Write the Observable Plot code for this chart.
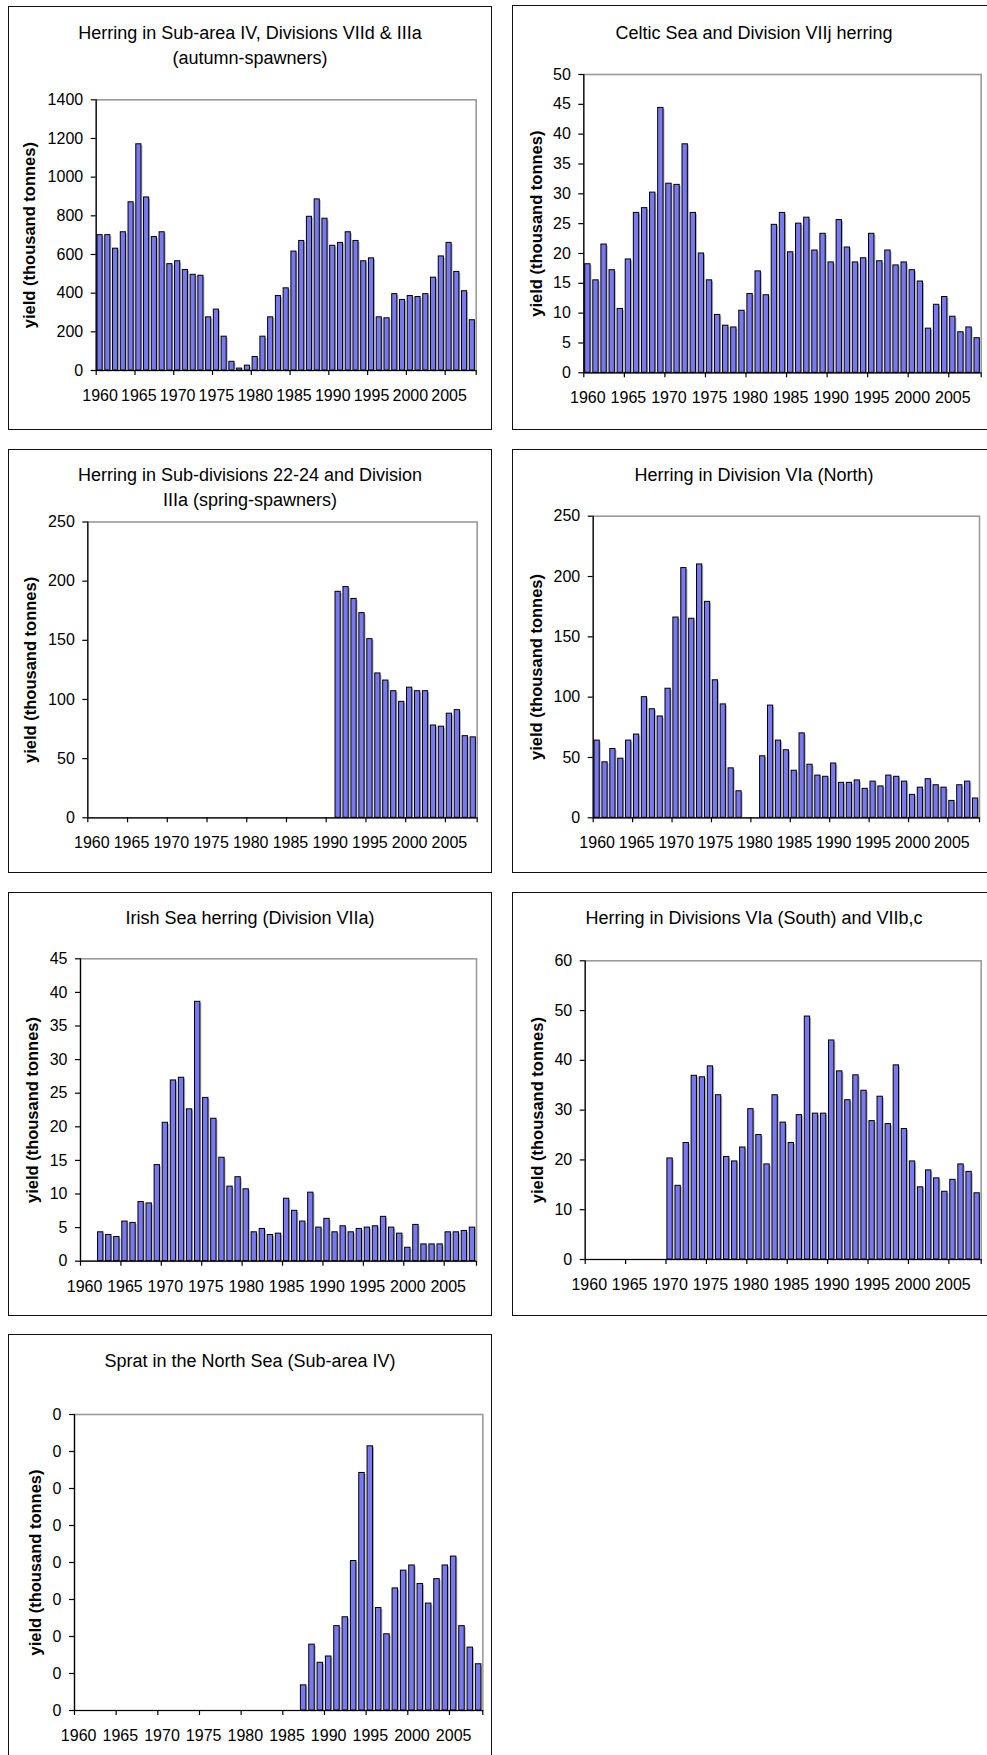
<!DOCTYPE html>
<html>
<head>
<meta charset="utf-8">
<script src="https://cdn.jsdelivr.net/npm/d3@7"></script>
<script src="https://cdn.jsdelivr.net/npm/@observablehq/plot@0.6"></script>
<style>
  html, body { margin: 0; padding: 0; background: #fff; }
  #root { position: relative; width: 987px; height: 1755px; overflow: hidden; font-family: "Liberation Sans", Arial, sans-serif; }
  .box { position: absolute; border: 1.5px solid #111; box-sizing: border-box; pointer-events: none; }
  .title { position: absolute; text-align: center; font-size: 18px; line-height: 25px; color: #000; white-space: nowrap; }
  .chart { position: absolute; }
</style>
</head>
<body>
<div id="root"></div>
<script>
// ---------- data ----------
const tickYears = [1960, 1965, 1970, 1975, 1980, 1985, 1990, 1995, 2000, 2005];
const yLabel = "yield (thousand tonnes)";

const autumnTitle = ["Herring in Sub-area IV, Divisions VIId & IIIa", "(autumn-spawners)"];
const autumnStart = 1960;
const autumnYield = [700, 700, 630, 715, 870, 1170, 895, 690, 715, 550,
  565, 520, 495, 490, 275, 315, 175, 45, 10, 25,
  70, 175, 275, 385, 425, 615, 670, 795, 885, 785,
  645, 660, 715, 670, 565, 580, 275, 270, 395, 365,
  385, 380, 395, 480, 590, 660, 510, 410, 260];

const celticTitle = ["Celtic Sea and Division VIIj herring"];
const celticStart = 1960;
const celticYield = [18.2, 15.5, 21.5, 17.2, 10.7, 19, 26.8, 27.6, 30.2, 44.4,
  31.7, 31.5, 38.3, 26.8, 20, 15.5, 9.7, 7.9, 7.6, 10.4,
  13.2, 17, 13, 24.8, 26.8, 20.2, 25, 26, 20.5, 23.3,
  18.5, 25.6, 21, 18.5, 19.2, 23.3, 18.7, 20.5, 18, 18.5,
  17.2, 15.3, 7.4, 11.4, 12.7, 9.4, 6.8, 7.6, 5.8];

const springTitle = ["Herring in Sub-divisions 22-24 and Division", "IIIa (spring-spawners)"];
const springStart = 1991;
const springYield = [191, 195, 185, 173, 151, 122, 116, 107, 98,
  110, 107, 107, 78, 77, 88, 91, 69, 68];

const northTitle = ["Herring in Division VIa (North)"];
const northStart = 1960;
const northYield = [64, 46, 57, 49, 64, 69, 100, 90, 84, 107,
  166, 207, 165, 210, 179, 114, 94, 41, 22, null,
  null, 51, 93, 64, 56, 39, 70, 44, 35, 34,
  45, 29, 29, 31, 24, 30, 26, 35, 34, 30,
  19, 25, 32, 27, 25, 14, 27, 30, 16];

const irishTitle = ["Irish Sea herring (Division VIIa)"];
const irishStart = 1962;
const irishYield = [4.3, 3.9, 3.6, 5.9, 5.7, 8.8, 8.6, 14.3,
  20.6, 26.9, 27.3, 22.6, 38.6, 24.3, 21.2, 15.4, 11.1, 12.5,
  10.7, 4.3, 4.8, 3.9, 4.1, 9.3, 7.5, 5.9, 10.2, 5,
  6.3, 4.3, 5.2, 4.3, 4.8, 5, 5.2, 6.6, 5, 4.1,
  2, 5.4, 2.5, 2.5, 2.5, 4.3, 4.3, 4.5, 5];

const southTitle = ["Herring in Divisions VIa (South) and VIIb,c"];
const southStart = 1970;
const southYield = [20.3, 14.8, 23.4, 36.9, 36.6, 38.8, 33, 20.6, 19.7, 22.5,
  30.2, 25, 19.1, 33, 27.5, 23.4, 29, 48.8, 29.3, 29.3,
  44, 37.8, 32, 37, 33.9, 27.8, 32.7, 27.2, 39, 26.2,
  19.7, 14.5, 17.9, 16.3, 13.6, 16, 19.1, 17.6, 13.3];

const spratTitle = ["Sprat in the North Sea (Sub-area IV)"];
const spratStart = 1987;
const spratYield = [68, 178, 129, 146, 228, 252, 404, 642, 714, 277,
  206, 330, 378, 392, 342, 289, 355, 392, 416, 228, 170, 125];
const spratTickLabels = ["0", "0", "0", "0", "0", "0", "0", "0", "0"];

// ---------- layout (absolute page coordinates) ----------
const panels = [
  {title: autumnTitle, start: autumnStart, values: autumnYield, yMax: 1400, yStep: 200,
   box: [8, 6, 492, 430], plot: [95.7, 99.3, 475.7, 370], titleY: 20.5, labelX: 29},
  {title: celticTitle, start: celticStart, values: celticYield, yMax: 50, yStep: 5,
   box: [512, 5, 996, 430], plot: [583.3, 74, 980.7, 372.3], titleY: 20.5, labelX: 536},
  {title: springTitle, start: springStart, values: springYield, yMax: 250, yStep: 50,
   box: [8, 449, 492, 873], plot: [87.3, 521.5, 476.7, 817.3], titleY: 462.5, labelX: 30},
  {title: northTitle, start: northStart, values: northYield, yMax: 250, yStep: 50,
   box: [512, 449, 996, 873], plot: [592.7, 515.7, 979, 817.3], titleY: 462.5, labelX: 536},
  {title: irishTitle, start: irishStart, values: irishYield, yMax: 45, yStep: 5,
   box: [8, 892, 492, 1316], plot: [80, 958.3, 476, 1260.7], titleY: 905.5, labelX: 32},
  {title: southTitle, start: southStart, values: southYield, yMax: 60, yStep: 10,
   box: [512, 892, 996, 1316], plot: [584.7, 960.3, 980.7, 1259], titleY: 905.5, labelX: 537},
  {title: spratTitle, start: spratStart, values: spratYield, yMax: 800, yStep: 100, tickLabels: spratTickLabels,
   box: [8, 1334, 492, 1760], plot: [74, 1414, 482.3, 1710], titleY: 1348.5, labelX: 35}
];

const root = document.getElementById("root");
const font = '"Liberation Sans", Arial, sans-serif';
const barFill = "#7878f0";

for (const p of panels) {
  const [bl, bt, br, bb] = p.box;
  const [pl, pt, pr, pb] = p.plot;
  const W = br - bl, H = bb - bt;
  const data = p.values.map((v, i) => ({year: p.start + i, value: v})).filter(d => d.value != null);
  const yTicks = d3.range(0, p.yMax + p.yStep / 2, p.yStep);
  const boundaries = tickYears.map(y => y - 0.5).concat([2008.5]);

  const chart = Plot.plot({
    width: W,
    height: H,
    marginLeft: pl - bl,
    marginRight: br - pr,
    marginTop: pt - bt,
    marginBottom: bb - pb,
    style: {fontFamily: font, fontSize: "16px", color: "#000", background: "transparent", overflow: "visible"},
    x: {type: "linear", domain: [1959.5, 2008.5], axis: null, label: null},
    y: {domain: [0, p.yMax], axis: null, label: null},
    marks: [
      Plot.frame({stroke: "#9a9a9a", strokeWidth: 1.6}),
      Plot.rectY(data, {x1: d => d.year - 0.33, x2: d => d.year + 0.33, y: "value",
        fill: "#b8b8b8", dx: 1.5, dy: 1.5}),
      Plot.rectY(data, {x1: d => d.year - 0.33, x2: d => d.year + 0.33, y: "value",
        fill: barFill, stroke: "#000", strokeWidth: 1}),
      Plot.ruleX([1959.5], {stroke: "#000", strokeWidth: 1.2}),
      Plot.ruleY([0], {stroke: "#000", strokeWidth: 1.2}),
      Plot.axisX(boundaries, {tickSize: 5, tickFormat: () => "", label: null, stroke: "#000", strokeWidth: 1.2}),
      Plot.axisX(tickYears, {tickSize: 0, tickPadding: 19, label: null, tickFormat: d => String(d), fontSize: 16, fill: "#000"}),
      Plot.axisY(yTicks, {tickSize: 5, tickPadding: 8, label: null, stroke: "#000", strokeWidth: 1.2, fontSize: 16, fill: "#000",
        tickFormat: p.tickLabels ? ((d, i) => p.tickLabels[i]) : (d => String(d))}),
      Plot.text([yLabel], {frameAnchor: "left", text: d => d, rotate: -90, dx: p.labelX - pl,
        fontWeight: "bold", fontSize: 16.5, fill: "#000", textAnchor: "middle", lineAnchor: "middle"})
    ]
  });
  chart.classList.add("chart");
  chart.style.left = bl + "px";
  chart.style.top = bt + "px";
  root.appendChild(chart);

  const t = document.createElement("div");
  t.className = "title";
  t.style.left = bl + "px";
  t.style.width = W + "px";
  t.style.top = p.titleY + "px";
  t.innerHTML = p.title.map(s => s.replace(/&/g, "&amp;")).join("<br>");
  root.appendChild(t);

  const b = document.createElement("div");
  b.className = "box";
  b.style.left = bl + "px";
  b.style.top = bt + "px";
  b.style.width = W + "px";
  b.style.height = H + "px";
  root.appendChild(b);
}
</script>
</body>
</html>
